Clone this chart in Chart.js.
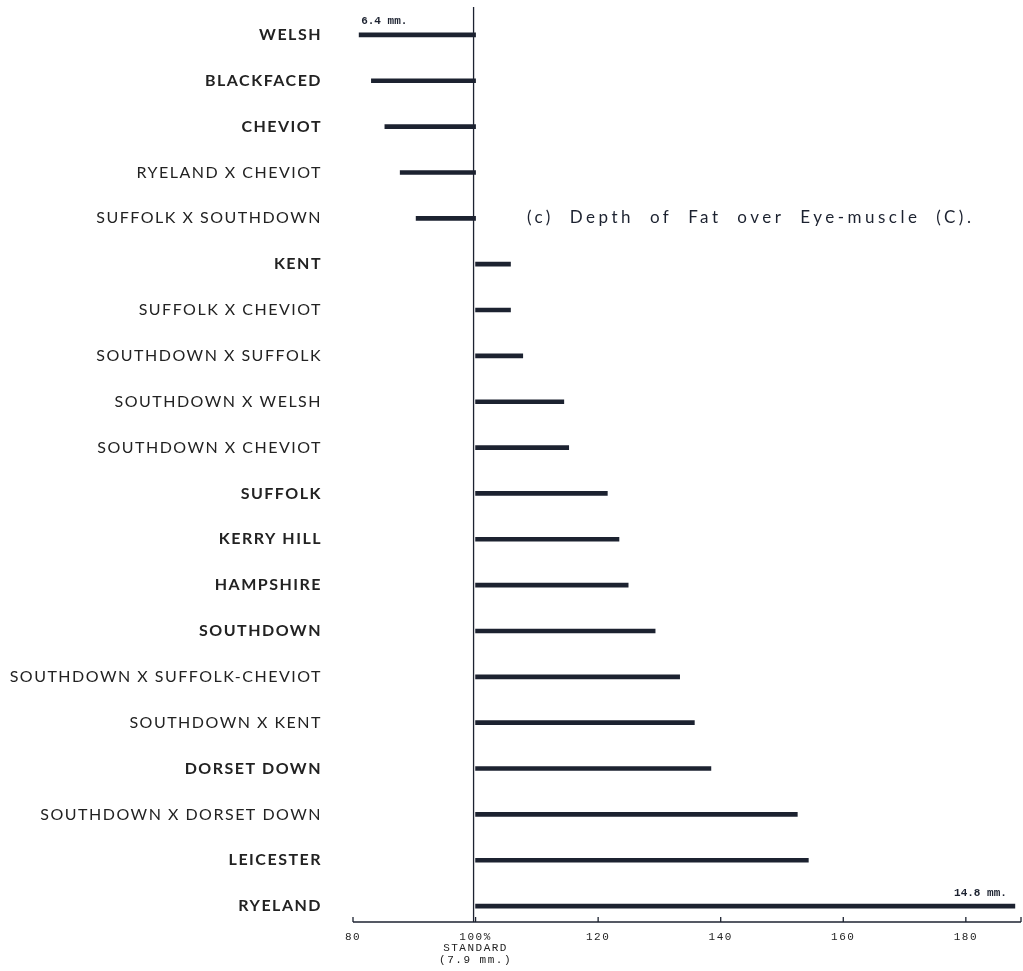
<!DOCTYPE html>
<html>
<head>
<meta charset="utf-8">
<script src="https://cdn.jsdelivr.net/npm/chart.js@4.4.1/dist/chart.umd.min.js"></script>
<style>
  html, body { margin: 0; padding: 0; background: #fff; }
</style>
</head>
<body>
<canvas id="fatChart" width="1023" height="971"></canvas>
<script>
// breeds, top to bottom
const breeds = [
    "WELSH", "BLACKFACED", "CHEVIOT", "RYELAND X CHEVIOT", "SUFFOLK X SOUTHDOWN",
    "KENT", "SUFFOLK X CHEVIOT", "SOUTHDOWN X SUFFOLK", "SOUTHDOWN X WELSH",
    "SOUTHDOWN X CHEVIOT", "SUFFOLK", "KERRY HILL", "HAMPSHIRE", "SOUTHDOWN",
    "SOUTHDOWN X SUFFOLK-CHEVIOT", "SOUTHDOWN X KENT", "DORSET DOWN",
    "SOUTHDOWN X DORSET DOWN", "LEICESTER", "RYELAND"
];
// depth of fat as % of the standard (7.9 mm = 100)
const fatPercent = [
    81, 83, 85.2, 87.7, 90.3,
    105.7, 105.7, 107.7, 114.4,
    115.2, 121.5, 123.4, 124.9, 129.3,
    133.3, 135.7, 138.4,
    152.5, 154.3, 188
];
const standard = 100;
const xTicks = [80, 100, 120, 140, 160, 180];
const tickLabels = {100: ["100%", "STANDARD", "(7.9 mm.)"]};
const endNotes = {0: "6.4 mm.", 19: "14.8 mm."};
const titleText = "(c) Depth of Fat over Eye-muscle (C).";

const ink = "#1c2230";

// wider letters for the axis labels, like the printed original
const spacing = {
    id: "spacing",
    beforeDraw(chart) {
        chart.ctx.letterSpacing = "1.5px";
    },
    beforeDatasetsDraw(chart) {
        chart.ctx.letterSpacing = "0px";
    }
};

// vertical standard line, bottom axis, end notes, title
const extras = {
    id: "extras",
    afterDatasetsDraw(chart) {
        const c = chart.ctx;
        const x = chart.scales.x;
        const y = chart.scales.y;
        const axisY = chart.chartArea.bottom - 7;
        c.save();
        c.strokeStyle = ink;
        c.lineWidth = 1.3;
        // standard line
        const sx = x.getPixelForValue(standard) - 2;
        c.beginPath();
        c.moveTo(sx, y.getPixelForValue(0) - 28);
        c.lineTo(sx, axisY);
        c.stroke();
        // axis line
        c.beginPath();
        c.moveTo(x.getPixelForValue(80), axisY);
        c.lineTo(x.right, axisY);
        c.stroke();
        // ticks
        xTicks.concat([x.max]).forEach(v => {
            const px = x.getPixelForValue(v);
            c.beginPath();
            c.moveTo(px, axisY);
            c.lineTo(px, axisY - 5);
            c.stroke();
        });
        // notes
        c.fillStyle = ink;
        c.font = "bold 11px 'Liberation Mono', monospace";
        c.textBaseline = "alphabetic";
        const meta = chart.getDatasetMeta(0);
        Object.keys(endNotes).forEach(k => {
            const bar = meta.data[k];
            const v = fatPercent[k];
            if (v < standard) {
                c.textAlign = "left";
                c.fillText(endNotes[k], x.getPixelForValue(v) + 2, bar.y - 11);
            } else {
                c.textAlign = "right";
                c.fillText(endNotes[k], x.getPixelForValue(v) - 8, bar.y - 10);
            }
        });
        // title
        c.font = "17px Lato, sans-serif";
        c.letterSpacing = "3.5px";
        c.wordSpacing = "8px";
        c.textAlign = "left";
        c.textBaseline = "middle";
        c.fillText(titleText, 527, y.getPixelForValue(4) - 1);
        c.restore();
    }
};

const ctx = document.getElementById("fatChart").getContext("2d");
new Chart(ctx, {
    type: "bar",
    data: {
        labels: breeds,
        datasets: [{
            data: fatPercent.map(v => [standard, v]),
            backgroundColor: ink,
            borderWidth: 0,
            barThickness: 4,
            borderSkipped: false
        }]
    },
    options: {
        indexAxis: "y",
        responsive: false,
        animation: false,
        events: [],
        layout: { padding: { top: 12, right: 2, bottom: 0, left: 0 } },
        plugins: { legend: { display: false }, tooltip: { enabled: false } },
        scales: {
            y: {
                offset: true,
                grid: { display: false, drawTicks: false },
                border: { display: false },
                afterFit(scale) {
                    scale.width = 353;
                    scale.paddingTop = 0;
                    scale.paddingBottom = 0;
                },
                ticks: {
                    padding: 31,
                    color: "#222",
                    font: (c) => ({
                        family: "Lato, sans-serif",
                        size: 16,
                        weight: breeds[c.index] && breeds[c.index].indexOf(" X ") < 0 ? "bold" : "normal"
                    })
                }
            },
            x: {
                min: 80,
                max: 189,
                grid: { display: false, drawTicks: false },
                border: { display: false },
                afterBuildTicks(scale) { scale.ticks = xTicks.map(v => ({ value: v })); },
                afterFit(scale) {
                    scale.height = 42;
                    scale.paddingLeft = 0;
                    scale.paddingRight = 0;
                },
                ticks: {
                    padding: 2,
                    maxRotation: 0,
                    autoSkip: false,
                    color: "#222",
                    font: { family: "'Liberation Mono', monospace", size: 11, lineHeight: "11.5px" },
                    callback: (v) => tickLabels[v] || String(v)
                }
            }
        }
    },
    plugins: [spacing, extras]
});
</script>
</body>
</html>
